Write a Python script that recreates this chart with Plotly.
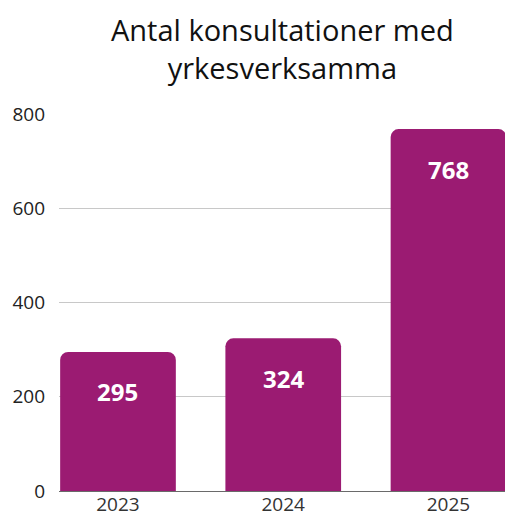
import plotly.graph_objects as go

years = ["2023", "2024", "2025"]
values = [295, 324, 768]
bar_color = "#9B1B72"

fig = go.Figure()
fig.add_trace(go.Bar(
    x=years, y=values, marker=dict(color=bar_color, line=dict(width=0)),
    width=0.70, hoverinfo="skip",
))
for i, v in enumerate(values):
    fig.add_annotation(x=i, y=v, xref="x", yref="y", text=f"<b>{v}</b>",
                       showarrow=False, yshift=-40, yanchor="middle",
                       font=dict(family="Open Sans", size=24, color="white"))

fig.add_annotation(text="Antal konsultationer med<br>yrkesverksamma",
                   xref="paper", yref="paper", x=0.5, y=1.175,
                   xanchor="center", yanchor="middle", showarrow=False,
                   font=dict(family="Open Sans", size=29, color="#111"))

fig.update_layout(
    width=505, height=513,
    margin=dict(l=59, r=0, t=114, b=22, autoexpand=False),
    paper_bgcolor="white", plot_bgcolor="white",
    barcornerradius=8,
    showlegend=False,
    font=dict(family="Open Sans", color="#222"),
    xaxis=dict(type="category", range=[-0.357, 2.342], showgrid=False,
               tickfont=dict(size=19, color="#333"), automargin=False,
               showline=False, zeroline=False),
    yaxis=dict(range=[0, 800], tickvals=[0, 200, 400, 600, 800],
               gridcolor="#c8c8c8", gridwidth=1,
               zeroline=True, zerolinecolor="#6a6a6a", zerolinewidth=1.3,
               tickfont=dict(size=19, color="#222"), automargin=False,
               ticklabelstandoff=13, showline=False),
)
fig.write_html("out.html", config={"displayModeBar": False},
               post_script="document.body.style.margin='0';document.body.style.overflow='hidden';")
